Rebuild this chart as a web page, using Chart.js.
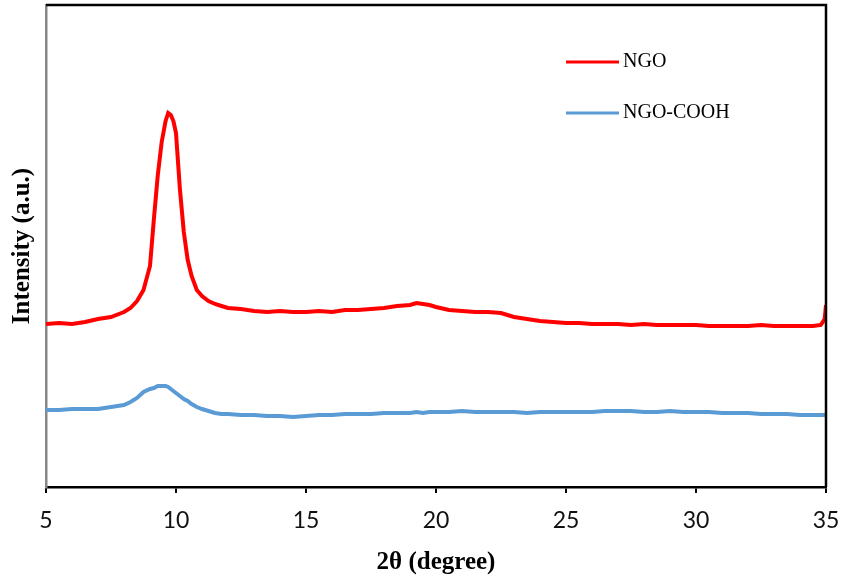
<!DOCTYPE html>
<html>
<head>
<meta charset="utf-8">
<title>XRD</title>
<script src="https://cdn.jsdelivr.net/npm/chart.js@4.4.1/dist/chart.umd.min.js"></script>
<style>
  html, body { margin: 0; padding: 0; background: #fff; }
  #wrap { width: 843px; height: 581px; }
</style>
</head>
<body>
<div id="wrap"><canvas id="xrd" width="843" height="581"></canvas></div>
<script>
// 2θ positions (degree)
const angles = [5, 5.5, 6, 6.5, 7, 7.5, 8, 8.25, 8.5, 8.75, 9, 9.15, 9.3, 9.45, 9.6, 9.7, 9.8, 9.9, 10,
  10.15, 10.3, 10.45, 10.6, 10.8, 11, 11.25, 11.5, 11.75, 12, 12.5, 13, 13.5, 14, 14.5, 15, 15.5, 16, 16.5,
  17, 17.5, 18, 18.5, 19, 19.25, 19.5, 19.75, 20, 20.5, 21, 21.5, 22, 22.5, 23, 23.5, 24, 24.5, 25, 25.5,
  26, 26.5, 27, 27.5, 28, 28.5, 29, 29.5, 30, 30.5, 31, 31.5, 32, 32.5, 33, 33.5, 34, 34.5, 34.8, 34.95, 35];

// intensity (a.u.), NGO is offset upward
const ngo = [163, 164, 163, 165, 168, 170, 175, 179, 186, 197, 221, 268, 312, 345, 366, 374, 372, 366, 354,
  298, 255, 227, 211, 197, 191, 186, 183, 181, 179, 178, 176, 175, 176, 175, 175, 176, 175, 177,
  177, 178, 179, 181, 182, 184, 183, 182, 180, 177, 176, 175, 175, 174, 170, 168, 166, 165, 164, 164,
  163, 163, 163, 162, 163, 162, 162, 162, 162, 161, 161, 161, 161, 162, 161, 161, 161, 161, 162, 168, 182];

const ngoCooh = [77, 77, 78, 78, 78, 80, 82, 85, 89, 95, 98, 99, 101, 101, 101, 100, 98, 96, 94,
  91, 88, 86, 83, 80, 78, 76, 74, 73, 73, 72, 72, 71, 71, 70, 71, 72, 72, 73,
  73, 73, 74, 74, 74, 75, 74, 75, 75, 75, 76, 75, 75, 75, 75, 74, 75, 75, 75, 75,
  75, 76, 76, 76, 75, 75, 76, 75, 75, 75, 74, 74, 74, 73, 73, 73, 72, 72, 72, 72, 71];

const seriesNames = ["NGO", "NGO-COOH"];
const seriesColors = ["#FF0000", "#5B9BD5"];
const xTicks = [5, 10, 15, 20, 25, 30, 35];

function toPoints(values) {
  return angles.map((a, i) => ({ x: a, y: values[i] }));
}

// box lines on top and right, legend inside the plot
const framePlugin = {
  id: "frame",
  afterDraw(chart) {
    const { ctx, chartArea: a } = chart;
    ctx.save();
    ctx.strokeStyle = "#000";
    ctx.lineWidth = 2.5;
    ctx.beginPath();
    ctx.moveTo(a.left, a.top);
    ctx.lineTo(a.right, a.top);
    ctx.lineTo(a.right, a.bottom);
    ctx.stroke();

    ctx.font = "20px 'Liberation Serif'";
    ctx.textBaseline = "middle";
    ctx.textAlign = "left";
    chart.data.datasets.forEach((ds, i) => {
      const y = a.top + 57 + i * 51;
      ctx.strokeStyle = ds.borderColor;
      ctx.lineWidth = 3;
      ctx.beginPath();
      ctx.moveTo(a.left + 520, y);
      ctx.lineTo(a.left + 573, y);
      ctx.stroke();
      ctx.fillStyle = "#000";
      ctx.fillText(ds.label, a.left + 577, y);
    });
    ctx.restore();
  }
};

new Chart(document.getElementById("xrd"), {
  type: "line",
  data: {
    datasets: [
      { label: seriesNames[0], data: toPoints(ngo), borderColor: seriesColors[0], borderWidth: 4, pointRadius: 0, tension: 0 },
      { label: seriesNames[1], data: toPoints(ngoCooh), borderColor: seriesColors[1], borderWidth: 4, pointRadius: 0, tension: 0 }
    ]
  },
  options: {
    responsive: false,
    devicePixelRatio: 1,
    animation: false,
    layout: { padding: { top: 5, right: 17, left: 0, bottom: 0 } },
    plugins: { legend: { display: false }, tooltip: { enabled: false } },
    scales: {
      x: {
        type: "linear",
        min: 5,
        max: 35,
        afterFit(scale) {
          scale.height = 94;
          scale.paddingLeft = 0;
          scale.paddingRight = 0;
        },
        afterBuildTicks(scale) { scale.ticks = xTicks.map(v => ({ value: v })); },
        border: { color: "#000", width: 2.5 },
        grid: { drawOnChartArea: false, drawTicks: true, tickLength: 6, color: "#000", lineWidth: 2 },
        ticks: { color: "#111", padding: 14, font: { family: "Lato", size: 23 } },
        title: {
          display: true,
          text: "2θ (degree)",
          color: "#000",
          padding: { top: 0, bottom: 3 },
          font: { family: "Liberation Serif", size: 25, weight: "bold" }
        }
      },
      y: {
        min: 0,
        max: 482,
        afterFit(scale) { scale.width = 46; },
        border: { color: "#878787", width: 2.5 },
        grid: { display: false, drawTicks: false },
        ticks: { display: false },
        title: {
          display: true,
          text: "Intensity (a.u.)",
          color: "#000",
          padding: { top: 8, bottom: 0 },
          font: { family: "Liberation Serif", size: 25, weight: "bold" }
        }
      }
    }
  },
  plugins: [framePlugin]
});
</script>
</body>
</html>
